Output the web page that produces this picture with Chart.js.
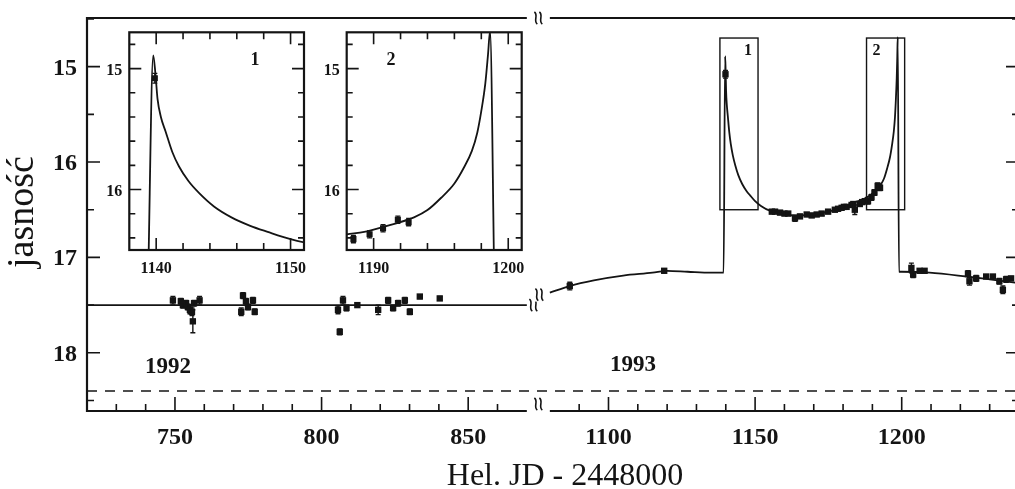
<!DOCTYPE html>
<html>
<head>
<meta charset="utf-8">
<script src="https://cdn.jsdelivr.net/npm/chart.js@4.4.0/dist/chart.umd.min.js"></script>
<style>
html, body { margin: 0; padding: 0; background: #fff; overflow: hidden; }
#wrap { position: relative; width: 1015px; height: 489px; overflow: hidden; background: #fff; }
#wrap canvas { position: absolute; }
</style>
</head>
<body>
<div id="wrap">
  <canvas id="main" width="1030" height="489" style="left:0;top:0"></canvas>
  <canvas id="in1" width="215" height="265" style="left:100px;top:20px"></canvas>
  <canvas id="in2" width="215" height="265" style="left:317px;top:20px"></canvas>
</div>
<script>
// axis ticks
const yMajor = [15, 16, 17, 18];
const yMinor = [14.5, 15.5, 16.5, 17.5, 18.5];
const xLabelsLeft = [750, 800, 850];
const xLabelsRight = [1100, 1150, 1200];
const xMinorLeft = [730, 740, 760, 770, 780, 790, 810, 820, 830, 840, 860];
const xMinorRight = [1090, 1110, 1120, 1130, 1140, 1160, 1170, 1180, 1190, 1210, 1220, 1230];

// model curve, 1992 season (flat)
const leftModelD = [720, 870];
const leftModelM = [17.5, 17.5];

// model curve, 1993 season
const modelD = [1080, 1086.7, 1095, 1105, 1115, 1120, 1127, 1135, 1139.26, 1139.78, 1139.95, 1140.1, 1140.35,
  1140.7, 1141.2, 1141.7, 1142.4, 1143.2, 1144.3, 1145.6, 1147, 1148.3, 1150, 1152, 1155, 1160, 1165, 1170,
  1175, 1180, 1184, 1187, 1188, 1189.3, 1191, 1193, 1194, 1195, 1196, 1196.7, 1197.3, 1197.7, 1198.0, 1198.3,
  1198.5, 1198.65, 1199.07, 1200, 1209.5, 1222, 1230, 1240];
const modelM = [17.37, 17.30, 17.24, 17.19, 17.16, 17.14, 17.15, 17.16, 17.16, 14.89, 15.05, 15.25, 15.40,
  15.52, 15.69, 15.81, 15.93, 16.03, 16.14, 16.23, 16.30, 16.35, 16.41, 16.46, 16.51, 16.55, 16.56, 16.55,
  16.52, 16.47, 16.42, 16.39, 16.37, 16.35, 16.30, 16.23, 16.17, 16.07, 15.95, 15.82, 15.68, 15.53, 15.35, 15.12,
  14.88, 14.69, 17.15, 17.15, 17.16, 17.20, 17.23, 17.27];

// observations 1992
const leftD = [749.3, 752.0, 752.7, 753.8, 754.4, 755.1, 755.8, 756.1, 756.5, 758.4,
  772.6, 773.2, 774.2, 774.9, 776.6, 777.2,
  805.6, 806.2, 807.3, 808.5, 812.2, 819.3, 822.7, 824.4, 826.1, 828.4, 830.1, 833.5, 840.3];
const leftM = [17.45, 17.46, 17.50, 17.48, 17.52, 17.55, 17.57, 17.67, 17.48, 17.45,
  17.57, 17.40, 17.46, 17.52, 17.45, 17.57,
  17.55, 17.78, 17.45, 17.53, 17.50, 17.55, 17.45, 17.53, 17.48, 17.45, 17.57, 17.41, 17.43];
const leftE = [0.04, 0.03, 0.03, 0.03, 0.03, 0.04, 0.04, 0.12, 0.03, 0.04,
  0.04, 0.03, 0.03, 0.03, 0.03, 0.03,
  0.04, 0.03, 0.04, 0.03, 0.02, 0.05, 0.03, 0.03, 0.03, 0.03, 0.03, 0.02, 0.02];

// observations 1993
const rightD = [1086.8, 1119.0, 1139.9,
  1155.7, 1156.8, 1158.5, 1160.0, 1161.3, 1163.6, 1165.3, 1167.6, 1169.3, 1171.0, 1172.7, 1174.9, 1177.2,
  1178.3, 1179.5, 1180.3, 1181.2, 1182.9, 1183.5, 1184.0, 1185.7, 1186.5, 1187.4, 1188.5, 1189.7, 1190.7,
  1191.8, 1192.6,
  1203.3, 1203.9, 1206.1, 1207.8, 1222.6, 1223.1, 1225.4, 1228.8, 1231.1, 1233.3, 1234.5, 1235.6, 1237.3];
const rightM = [17.30, 17.14, 15.08,
  16.52, 16.52, 16.53, 16.54, 16.54, 16.59, 16.57, 16.55, 16.56, 16.55, 16.54, 16.52, 16.50,
  16.49, 16.48, 16.47, 16.47, 16.45, 16.44, 16.50, 16.44, 16.42, 16.41, 16.41, 16.37, 16.32,
  16.25, 16.27,
  17.11, 17.18, 17.14, 17.14, 17.17, 17.25, 17.22, 17.20, 17.20, 17.25, 17.34, 17.23, 17.22];
const rightE = [0.04, 0.02, 0.04,
  0.02, 0.02, 0.02, 0.02, 0.02, 0.03, 0.02, 0.02, 0.02, 0.02, 0.02, 0.02, 0.02,
  0.02, 0.02, 0.02, 0.02, 0.02, 0.02, 0.05, 0.02, 0.02, 0.02, 0.03, 0.03, 0.03,
  0.03, 0.03,
  0.05, 0.03, 0.02, 0.02, 0.03, 0.04, 0.03, 0.02, 0.02, 0.03, 0.04, 0.03, 0.02];

const limitMag = 18.4;
const boxNames = ['1', '2'];
const boxStart = [1138, 1188];
const boxEnd = [1151, 1201];
const boxTopMag = 14.7, boxBottomMag = 16.5;

const ink = '#141414';
const serif = '"Liberation Serif", "Times New Roman", serif';

// broken axis: right season is shifted to sit just after the left one
const GAP = 7.85;
const toU = d => d <= 870 ? d : d - 1080 + 870 + GAP;
const X_MAX = toU(1240);

const pts = (ds, ms, f) => ds.map((d, i) => ({ x: f ? f(d) : d, y: ms[i] }));

const errorBars = {
  id: 'errorBars',
  afterDatasetsDraw(chart) {
    const { ctx, chartArea: a, scales: { y } } = chart;
    ctx.save();
    ctx.beginPath();
    ctx.rect(a.left, a.top, a.width, a.height);
    ctx.clip();
    ctx.strokeStyle = ink;
    ctx.lineWidth = 1.4;
    chart.data.datasets.forEach((ds, di) => {
      if (!ds.errs) return;
      chart.getDatasetMeta(di).data.forEach((p, i) => {
        const m = ds.data[i].y, e = ds.errs[i];
        const y0 = y.getPixelForValue(m - e), y1 = y.getPixelForValue(m + e);
        ctx.beginPath();
        ctx.moveTo(p.x, y0); ctx.lineTo(p.x, y1);
        ctx.moveTo(p.x - 2.5, y0); ctx.lineTo(p.x + 2.5, y0);
        ctx.moveTo(p.x - 2.5, y1); ctx.lineTo(p.x + 2.5, y1);
        ctx.stroke();
      });
    });
    ctx.restore();
  }
};

function breakMark(ctx, cx, cy) {
  ctx.save();
  ctx.fillStyle = '#fff';
  ctx.fillRect(cx - 6, cy - 7, 12, 14);
  ctx.strokeStyle = ink;
  ctx.lineWidth = 1.6;
  [-2.5, 2.5].forEach(o => {
    const x0 = cx + o;
    ctx.beginPath();
    ctx.moveTo(x0 - 1.5, cy - 6);
    ctx.bezierCurveTo(x0 + 3, cy - 3, x0 - 3, cy + 3, x0 + 1.5, cy + 6);
    ctx.stroke();
  });
  ctx.restore();
}

const mainFrame = {
  id: 'mainFrame',
  afterDraw(chart) {
    const { ctx, chartArea: a, scales: { x, y } } = chart;
    const px = d => x.getPixelForValue(toU(d));
    const py = m => y.getPixelForValue(m);
    const xl = px(870), xr = px(1080), xc = (xl + xr) / 2;
    ctx.save();
    ctx.strokeStyle = ink;
    ctx.fillStyle = ink;
    ctx.lineWidth = 2.2;
    ctx.beginPath();
    ctx.moveTo(a.left, a.top); ctx.lineTo(xl, a.top);
    ctx.moveTo(xr, a.top); ctx.lineTo(a.right, a.top);
    ctx.moveTo(a.left, a.bottom); ctx.lineTo(xl, a.bottom);
    ctx.moveTo(xr, a.bottom); ctx.lineTo(a.right, a.bottom);
    ctx.moveTo(a.left, a.top - 1); ctx.lineTo(a.left, a.bottom + 1);
    ctx.moveTo(a.right, a.top - 1); ctx.lineTo(a.right, a.bottom + 1);
    ctx.stroke();

    // inward ticks
    ctx.lineWidth = 1.6;
    ctx.beginPath();
    [...xLabelsLeft, ...xLabelsRight].forEach(d => { ctx.moveTo(px(d), a.bottom); ctx.lineTo(px(d), a.bottom - 14); });
    [...xMinorLeft, ...xMinorRight].forEach(d => { ctx.moveTo(px(d), a.bottom); ctx.lineTo(px(d), a.bottom - 7); });
    yMajor.forEach(m => {
      ctx.moveTo(a.left, py(m)); ctx.lineTo(a.left + 13, py(m));
      ctx.moveTo(a.right, py(m)); ctx.lineTo(a.right - 13, py(m));
    });
    yMinor.forEach(m => {
      ctx.moveTo(a.left, py(m)); ctx.lineTo(a.left + 7, py(m));
      ctx.moveTo(a.right, py(m)); ctx.lineTo(a.right - 7, py(m));
    });
    ctx.stroke();

    // zoom boxes
    ctx.lineWidth = 1.4;
    boxNames.forEach((n, i) => {
      const x0 = px(boxStart[i]), x1 = px(boxEnd[i]);
      const y0 = py(boxTopMag), y1 = py(boxBottomMag);
      ctx.strokeRect(x0, y0, x1 - x0, y1 - y0);
      ctx.font = 'bold 16px ' + serif;
      ctx.textAlign = 'center';
      ctx.fillText(n, i === 0 ? x1 - 10 : x0 + 10, y0 + 17);
    });

    // tick labels
    ctx.font = 'bold 24px ' + serif;
    ctx.textAlign = 'center';
    [...xLabelsLeft, ...xLabelsRight].forEach(d => ctx.fillText(String(d), px(d), a.bottom + 33));
    ctx.textAlign = 'right';
    yMajor.forEach(m => ctx.fillText(String(m), a.left - 10, py(m) + 8));

    // season labels
    ctx.font = 'bold 23px ' + serif;
    ctx.textAlign = 'center';
    ctx.fillText('1992', px(747.6), py(18.13) + 8);
    ctx.fillText('1993', px(1108.4), py(18.11) + 8);

    // axis titles
    ctx.font = '32px ' + serif;
    ctx.fillText('Hel. JD - 2448000', 565, 485);
    ctx.save();
    ctx.translate(33, 212);
    ctx.rotate(-Math.PI / 2);
    ctx.font = '38px ' + serif;
    ctx.fillText('jasność', 0, 0);
    ctx.restore();

    // axis break marks
    breakMark(ctx, xc, a.top);
    breakMark(ctx, xc, a.bottom - 7);
    breakMark(ctx, xc - 5, py(17.5));
    breakMark(ctx, xc + 1, py(17.39));
    ctx.restore();
  }
};

new Chart(document.getElementById('main'), {
  type: 'scatter',
  data: {
    datasets: [
      { data: pts(leftModelD, leftModelM, toU), showLine: true, pointRadius: 0, borderColor: ink, borderWidth: 1.8 },
      { data: pts(modelD, modelM, toU), showLine: true, pointRadius: 0, borderColor: ink, borderWidth: 1.8, cubicInterpolationMode: 'monotone' },
      { data: [{ x: 720, y: limitMag }, { x: X_MAX, y: limitMag }], showLine: true, pointRadius: 0, borderColor: ink, borderWidth: 1.6, borderDash: [10, 8] },
      { data: pts(leftD, leftM, toU), errs: leftE, pointStyle: 'rect', pointRadius: 4.5, backgroundColor: ink, borderColor: ink, borderWidth: 0 },
      { data: pts(rightD, rightM, toU), errs: rightE, pointStyle: 'rect', pointRadius: 4.5, backgroundColor: ink, borderColor: ink, borderWidth: 0 }
    ]
  },
  options: {
    responsive: false,
    animation: false,
    events: [],
    layout: { padding: { left: 87, top: 18, right: 11, bottom: 78 } },
    plugins: { legend: { display: false }, tooltip: { enabled: false } },
    scales: {
      x: { type: 'linear', min: 720, max: X_MAX, display: false },
      y: { type: 'linear', reverse: true, min: 14.49, max: 18.61, display: false }
    }
  },
  plugins: [errorBars, mainFrame]
});

// insets
function insetFrame(cfg) {
  return {
    id: 'insetFrame',
    afterDraw(chart) {
      const { ctx, chartArea: a, scales: { x, y } } = chart;
      ctx.save();
      ctx.strokeStyle = ink;
      ctx.fillStyle = ink;
      ctx.lineWidth = 2.2;
      ctx.strokeRect(a.left, a.top, a.width, a.height);
      ctx.lineWidth = 1.6;
      ctx.beginPath();
      const tx = (d, len) => {
        const p = x.getPixelForValue(d);
        ctx.moveTo(p, a.top); ctx.lineTo(p, a.top + len);
        ctx.moveTo(p, a.bottom); ctx.lineTo(p, a.bottom - len);
      };
      const ty = (m, len) => {
        const p = y.getPixelForValue(m);
        ctx.moveTo(a.left, p); ctx.lineTo(a.left + len, p);
        ctx.moveTo(a.right, p); ctx.lineTo(a.right - len, p);
      };
      cfg.xMajor.forEach(d => tx(d, 12));
      cfg.xMinor.forEach(d => tx(d, 7));
      cfg.yMajor.forEach(m => ty(m, 12));
      cfg.yMinor.forEach(m => ty(m, 6));
      ctx.stroke();
      ctx.font = 'bold 16px ' + serif;
      ctx.textAlign = 'center';
      cfg.xMajor.forEach(d => ctx.fillText(String(d), x.getPixelForValue(d), a.bottom + 23));
      ctx.textAlign = 'right';
      cfg.yMajor.forEach(m => ctx.fillText(String(m), a.left - 7, y.getPixelForValue(m) + 6));
      ctx.font = 'bold 18px ' + serif;
      ctx.textAlign = 'center';
      ctx.fillText(cfg.name, x.getPixelForValue(cfg.nameAt[0]), y.getPixelForValue(cfg.nameAt[1]) + 6);
      ctx.restore();
    }
  };
}

const insets = [
  { id: 'in1', name: '1', xMin: 1138, xMax: 1151, xMajor: [1140, 1150], xMinor: [1142, 1144, 1146, 1148],
    nameAt: [1147.35, 14.92], pad: { left: 29.3, top: 12.3, right: 11, bottom: 35 } },
  { id: 'in2', name: '2', xMin: 1188, xMax: 1201, xMajor: [1190, 1200], xMinor: [1192, 1194, 1196, 1198],
    nameAt: [1191.3, 14.92], pad: { left: 29.7, top: 12.3, right: 10.3, bottom: 35 } }
];

insets.forEach(cfg => {
  cfg.yMajor = [15, 16];
  cfg.yMinor = [14.8, 15.2, 15.4, 15.6, 15.8, 16.2, 16.4];
  new Chart(document.getElementById(cfg.id), {
    type: 'scatter',
    data: {
      datasets: [
        { data: pts(modelD, modelM), showLine: true, pointRadius: 0, borderColor: ink, borderWidth: 1.8, cubicInterpolationMode: 'monotone' },
        { data: pts(rightD, rightM), errs: rightE, pointStyle: 'rect', pointRadius: 4.3, backgroundColor: ink, borderColor: ink, borderWidth: 0 }
      ]
    },
    options: {
      responsive: false,
      animation: false,
      events: [],
      layout: { padding: cfg.pad },
      plugins: { legend: { display: false }, tooltip: { enabled: false } },
      scales: {
        x: { type: 'linear', min: cfg.xMin, max: cfg.xMax, display: false },
        y: { type: 'linear', reverse: true, min: boxTopMag, max: boxBottomMag, display: false }
      }
    },
    plugins: [errorBars, insetFrame(cfg)]
  });
});
</script>
</body>
</html>
